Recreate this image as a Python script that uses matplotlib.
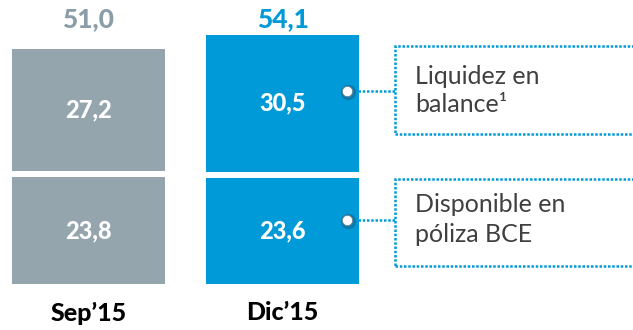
import matplotlib.pyplot as plt
from matplotlib.patches import Rectangle

# valores de liquidez (miles de millones)
periodos = ["Sep’15", "Dic’15"]
disponible_bce = [23.8, 23.6]
liquidez_balance = [27.2, 30.5]
totales = ["51,0", "54,1"]
etiquetas_bce = ["23,8", "23,6"]
etiquetas_balance = ["27,2", "30,5"]

gris = "#95A5AE"
gris_txt = "#8A9DA9"
azul = "#009AD8"
colores = [gris, azul]
colores_total = [gris_txt, azul]

plt.rcParams["font.family"] = ["Lato", "DejaVu Sans"]

W, H = 633, 330
fig = plt.figure(figsize=(W / 100, H / 100), dpi=100)
ax = fig.add_axes([0, 0, 1, 1])
ax.set_axis_off()

esc = 4.5          # px por unidad
base = 46          # px desde abajo
ax.set_xlim(-88.5 / 194, (W - 88.5) / 194)
ax.set_ylim(-base / esc, (H - base) / esc)

hueco = 6 / esc
ancho = 153 / 194
x = range(len(periodos))

for i in x:
    ax.bar(i, disponible_bce[i], width=ancho, color=colores[i])
    ax.bar(i, liquidez_balance[i], width=ancho, bottom=disponible_bce[i] + hueco,
           color=colores[i])
    ax.text(i, disponible_bce[i] / 2, etiquetas_bce[i], color="white",
            fontsize=17, fontweight="black", ha="center", va="center")
    ax.text(i, disponible_bce[i] + hueco + liquidez_balance[i] / 2,
            etiquetas_balance[i], color="white", fontsize=17,
            fontweight="black", ha="center", va="center")
    ax.text(i, -29 / esc, periodos[i], color="black", fontsize=18,
            fontweight="black", ha="center", va="center")

# totales alineados sobre la barra mayor
y_tot = (H - base - 19) / esc
for i in x:
    ax.text(i, y_tot, totales[i], color=colores_total[i], fontsize=19,
            fontweight="black", ha="center", va="center")


def px(xp, yp):
    return xp / W, 1 - yp / H


punteado = dict(color=azul, lw=1.8, linestyle=(0, (1, 0.7)))

cajas = [
    (46, 134, 91, ["Liquidez en", "balance¹"]),
    (179, 266, 220, ["Disponible en", "póliza BCE"]),
]
for top, bot, yd, lineas in cajas:
    x0, y0 = px(395, bot)
    x1, y1 = px(640, top)
    caja = Rectangle((x0, y0), x1 - x0, y1 - y0, transform=fig.transFigure,
                     fill=False, clip_on=False, **punteado)
    fig.patches.append(caja)
    # conector punteado
    a = px(358, yd)
    b = px(395, yd)
    fig.add_artist(plt.Line2D([a[0], b[0]], [a[1], b[1]],
                              transform=fig.transFigure, **punteado))
    # punto blanco con sombra
    s = px(348, yd + 1)
    fig.add_artist(plt.Line2D([s[0]], [s[1]], marker="o", markersize=10,
                              color="#1d4f6e", alpha=0.35, lw=0,
                              transform=fig.transFigure))
    d = px(347, yd)
    fig.add_artist(plt.Line2D([d[0]], [d[1]], marker="o", markersize=7.5,
                              markerfacecolor="white", markeredgecolor="#5b7f92",
                              markeredgewidth=0.6, lw=0,
                              transform=fig.transFigure))
    t1 = px(415, yd - 15)
    t2 = px(415, yd + 14)
    fig.text(t1[0], t1[1], lineas[0], fontsize=18, color="#404040",
             ha="left", va="center")
    fig.text(t2[0], t2[1], lineas[1], fontsize=18, color="#404040",
             ha="left", va="center")

fig.savefig("out.png", dpi=100)
